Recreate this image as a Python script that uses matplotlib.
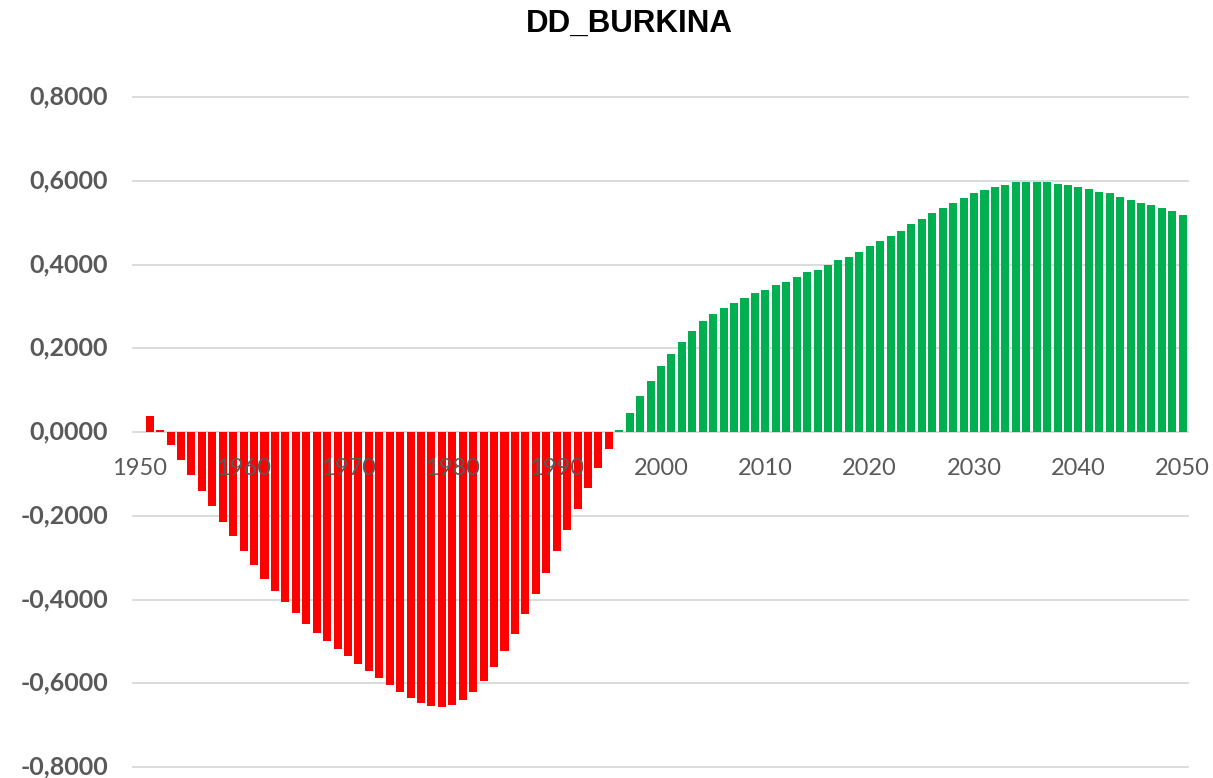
import matplotlib
matplotlib.use("Agg")
import matplotlib.pyplot as plt

plt.rcParams["font.family"] = ["Lato", "DejaVu Sans"]

title = "DD_BURKINA"
years = list(range(1951, 2051))
values = [
    0.038, 0.004, -0.031, -0.067, -0.103, -0.141, -0.177, -0.215, -0.249, -0.285,
    -0.318, -0.352, -0.380, -0.406, -0.433, -0.459, -0.480, -0.500, -0.519, -0.535,
    -0.555, -0.571, -0.588, -0.605, -0.621, -0.636, -0.648, -0.655, -0.657, -0.652,
    -0.640, -0.621, -0.595, -0.562, -0.523, -0.483, -0.435, -0.387, -0.337, -0.285,
    -0.235, -0.184, -0.134, -0.086, -0.041, 0.004, 0.045, 0.085, 0.121, 0.157,
    0.187, 0.216, 0.242, 0.264, 0.281, 0.295, 0.309, 0.321, 0.331, 0.340,
    0.350, 0.359, 0.369, 0.381, 0.388, 0.400, 0.410, 0.419, 0.431, 0.443,
    0.455, 0.467, 0.481, 0.496, 0.508, 0.522, 0.534, 0.548, 0.558, 0.570,
    0.577, 0.586, 0.591, 0.596, 0.596, 0.596, 0.596, 0.593, 0.591, 0.586,
    0.581, 0.574, 0.570, 0.562, 0.555, 0.548, 0.541, 0.534, 0.527, 0.519,
]
# first year of the green (second) series
green_start = 1996
x_ticks = list(range(1950, 2051, 10))
y_ticks = [-0.8, -0.6, -0.4, -0.2, 0.0, 0.2, 0.4, 0.6, 0.8]

W, H = 1213, 778
fig = plt.figure(figsize=(W / 100, H / 100), dpi=100)
ax = fig.add_axes([133 / W, 1 - 767 / H, (1188 - 133) / W, (767 - 97) / H])

colors = ["#FF0000" if y < green_start else "#00B050" for y in years]
ax.bar(years, values, width=0.77, color=colors, zorder=1)

ax.set_xlim(1949.4, 2050.5)
ax.set_ylim(-0.8, 0.8)
for yt in y_ticks:
    ax.axhline(yt, color="#D9D9D9", linewidth=1.3, zorder=0, clip_on=False)
ax.set_axisbelow(False)

for s in ["top", "right", "left", "bottom"]:
    ax.spines[s].set_visible(False)
ax.spines["bottom"].set_position(("data", 0))
ax.xaxis.set_zorder(5)

ax.set_xticks(x_ticks)
ax.set_xticklabels([str(t) for t in x_ticks])
ax.set_yticks(y_ticks)
ax.set_yticklabels([f"{v:.4f}".replace(".", ",").replace("-0,0000", "0,0000") for v in y_ticks])
ax.tick_params(axis="x", length=0, pad=19, labelsize=17, labelcolor="#595959")
ax.tick_params(axis="y", length=0, pad=18, labelsize=18, labelcolor="#595959")
for lab in ax.get_yticklabels():
    lab.set_fontweight("bold")
    lab.set_verticalalignment("center")

fig.text(629 / W, 1 - 24 / H, title, ha="center", va="center",
         fontsize=22.5, fontweight="bold", family="Liberation Sans", color="#000000")

fig.savefig("out.png", dpi=100, facecolor="white")
